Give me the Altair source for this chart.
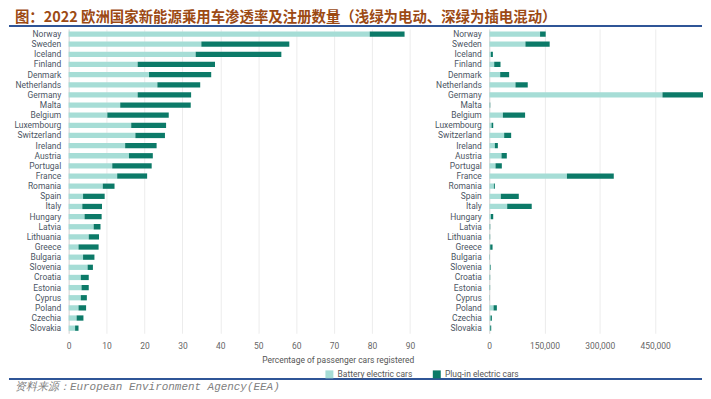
import altair as alt
import pandas as pd

countries = ["Norway", "Sweden", "Iceland", "Finland", "Denmark", "Netherlands", "Germany",
             "Malta", "Belgium", "Luxembourg", "Switzerland", "Ireland", "Austria", "Portugal",
             "France", "Romania", "Spain", "Italy", "Hungary", "Latvia", "Lithuania", "Greece",
             "Bulgaria", "Slovenia", "Croatia", "Estonia", "Cyprus", "Poland", "Czechia", "Slovakia"]

# share of new passenger cars (%)
bev_share = [79.4, 35.0, 33.5, 18.2, 21.2, 23.4, 18.2, 13.6, 10.2, 16.5, 17.6, 14.9, 15.9, 11.5,
             12.8, 9.0, 3.8, 3.6, 4.2, 6.6, 5.3, 2.6, 3.8, 5.0, 3.2, 3.4, 3.2, 2.6, 2.1, 1.7]
phev_share = [9.2, 23.2, 22.6, 20.4, 16.4, 11.3, 14.1, 18.6, 16.2, 9.2, 7.8, 8.3, 6.3, 10.4,
              7.9, 3.1, 5.7, 5.2, 4.5, 1.8, 2.7, 5.3, 3.0, 1.4, 2.1, 1.9, 1.6, 2.0, 1.8, 0.9]

# number of passenger cars registered
bev_count = [137900, 98200, 4500, 13500, 29700, 71200, 470000, 1500, 37000, 6300, 40500, 15300,
             33300, 17100, 210800, 12600, 31500, 48700, 4500, 1500, 1500, 2700, 1200, 3000,
             1500, 1500, 600, 11700, 3600, 2700]
phev_count = [15300, 65800, 5400, 17100, 24300, 33300, 362000, 1200, 60300, 4500, 19000, 8100,
              14400, 17100, 127100, 2700, 48700, 66600, 6300, 1200, 1000, 6300, 600, 1500,
              1000, 900, 400, 9000, 3600, 2700]

series = ["Battery electric cars", "Plug-in electric cars"]
colors = ["#a6ddd6", "#0c7a68"]

title_text = "图：2022 欧洲国家新能源乘用车渗透率及注册数量（浅绿为电动、深绿为插电混动）"
source_text = "资料来源：European Environment Agency(EEA)"
left_title = "Percentage of passenger cars registered"

rows = []
for i, c in enumerate(countries):
    rows.append(dict(country=c, type=series[0], ord=0, share=bev_share[i], count=bev_count[i]))
    rows.append(dict(country=c, type=series[1], ord=1, share=phev_share[i], count=phev_count[i]))
df = pd.DataFrame(rows)

LABEL = "#4b5563"
BLUE = "#2f5597"

color = alt.Color(
    "type:N",
    scale=alt.Scale(domain=series, range=colors),
    legend=alt.Legend(orient="none", legendX=258, legendY=343, direction="horizontal",
                      title=None, symbolType="square", symbolSize=64, symbolStrokeWidth=0,
                      labelFontSize=8.5, labelColor="#555555", labelFont="Roboto",
                      columnPadding=20, symbolOffset=0),
)


def yenc():
    return alt.Y(
        "country:N", sort=countries,
        scale=alt.Scale(paddingInner=0.48, paddingOuter=0.24),
        axis=alt.Axis(title=None, minExtent=60, maxExtent=60, labelPadding=8, ticks=False,
                      domainColor="#d9d9d9", labelFont="Roboto", labelFontSize=8.5,
                      labelColor=LABEL, grid=False),
    )


def xaxis(title, values, fmt):
    return alt.Axis(title=title, titleAnchor="end", values=values, format=fmt,
                    domain=False, ticks=False, labelPadding=8, titlePadding=6,
                    labelFont="Roboto", labelFontSize=8.5, labelColor="#666666",
                    titleFont="Roboto", titleFontSize=8.5, titleFontWeight="normal",
                    titleColor="#555555", grid=True, gridColor="#ececec", labelFlush=False)


left_bars = alt.Chart(df).mark_bar().encode(
    x=alt.X("share:Q", stack="zero", scale=alt.Scale(domain=[0, 91], nice=False),
            axis=xaxis(left_title, list(range(0, 100, 10)), "d")),
    y=yenc(),
    color=color,
    order=alt.Order("ord:Q"),
)

one = alt.Data(values=[{"t": title_text, "s": source_text}])

top_anchor = alt.Chart(one).mark_rule(strokeOpacity=0, strokeWidth=1).encode(
    x=alt.value(-60), y=alt.value(-19.5), y2=alt.value(-3))
header_text = alt.Chart(one).mark_text(
    align="left", baseline="middle", font="Noto Sans CJK SC", fontSize=14.5, fontWeight="bold",
    color="#9c4a14").encode(x=alt.value(-54), y=alt.value(-11.5), text="t:N")
header_rule = alt.Chart(one).mark_rule(color=BLUE, strokeWidth=2).encode(
    x=alt.value(-60), x2=alt.value(637), y=alt.value(-3))
footer_rule = alt.Chart(one).mark_rule(color=BLUE, strokeWidth=2).encode(
    x=alt.value(-60), x2=alt.value(637), y=alt.value(352))
footer_text = alt.Chart(one).mark_text(
    align="left", baseline="middle", font="Liberation Mono", fontSize=11, fontStyle="italic",
    color="#808080").encode(x=alt.value(-54), y=alt.value(360), text="s:N")

left = alt.layer(left_bars, top_anchor, header_rule, footer_rule, header_text,
                 footer_text).properties(width=347, height=306)

right_bars = alt.Chart(df).mark_bar(clip=True).encode(
    x=alt.X("count:Q", stack="zero", scale=alt.Scale(domain=[0, 580000], nice=False),
            axis=xaxis(None, [0, 150000, 300000, 450000], ",d")),
    y=yenc(),
    color=color,
    order=alt.Order("ord:Q"),
)
right = right_bars.properties(width=215, height=306)

chart = alt.hconcat(left, right, spacing=76).properties(
    bounds="flush", padding=0
).configure_view(stroke=None)

chart.save("out.html", embed_options={"renderer": "svg", "actions": False})
